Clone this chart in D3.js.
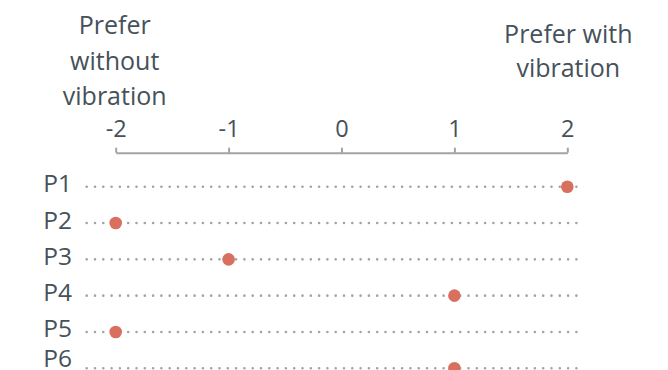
<!DOCTYPE html>
<html>
<head>
<meta charset="utf-8">
<script src="https://cdn.jsdelivr.net/npm/d3@7"></script>
<style>
  html, body { margin: 0; padding: 0; background: #ffffff; }
  svg { display: block; font-family: "Open Sans", sans-serif; }
</style>
</head>
<body>
<svg id="chart" width="668" height="370"></svg>
<script>
// Preference score per participant (-2 = prefer without vibration, 2 = prefer with vibration)
const participants = ["P1", "P2", "P3", "P4", "P5", "P6"];
const scores = [2, -2, -1, 1, -2, 1];
const tickValues = [-2, -1, 0, 1, 2];
const leftLabel = ["Prefer", "without", "vibration"];
const rightLabel = ["Prefer with", "vibration"];

const textColor = "#46515a";
const axisColor = "#a3a3a3";
const dotColor = "#d9705f";
const width = 668, height = 370;

const svg = d3.select("#chart");

const x = d3.scaleLinear().domain([-2, 2]).range([115.7, 567.3]);
const y = d3.scalePoint().domain(participants).range([186.7, 368.3]);

// Top axis
const axisG = svg.append("g")
  .attr("transform", "translate(0,152.7)")
  .call(d3.axisTop(x)
    .tickValues(tickValues)
    .tickFormat(d => String(d))
    .tickSize(5)
    .tickSizeOuter(0)
    .tickPadding(11));
axisG.select(".domain").attr("stroke", axisColor).attr("stroke-width", 2);
axisG.selectAll(".tick line").attr("stroke", axisColor).attr("stroke-width", 2);
axisG.selectAll(".tick text")
  .attr("fill", textColor)
  .style("font-family", "'Open Sans', sans-serif")
  .style("font-size", "23.5px");

// End-of-scale captions
svg.append("text")
  .attr("text-anchor", "middle")
  .attr("fill", textColor)
  .style("font-size", "25px")
  .selectAll("tspan")
  .data(leftLabel)
  .join("tspan")
  .attr("x", x(-2) - 1)
  .attr("y", (d, i) => 34 + i * 35.5)
  .text(d => d);

svg.append("text")
  .attr("text-anchor", "middle")
  .attr("fill", textColor)
  .style("font-size", "25px")
  .selectAll("tspan")
  .data(rightLabel)
  .join("tspan")
  .attr("x", x(2) + 1)
  .attr("y", (d, i) => 43.3 + i * 34)
  .text(d => d);

// Rows
const rows = svg.append("g")
  .selectAll("g")
  .data(participants.map((p, i) => ({ p, v: scores[i] })))
  .join("g");

rows.append("line")
  .attr("x1", 86.7)
  .attr("x2", 584)
  .attr("y1", d => y(d.p))
  .attr("y2", d => y(d.p))
  .attr("stroke", axisColor)
  .attr("stroke-width", 2.6)
  .attr("stroke-linecap", "round")
  .attr("stroke-dasharray", "0 8.3");

// Row labels sit just below their line, kept inside the bottom edge
rows.append("text")
  .attr("x", 43.3)
  .attr("y", d => Math.min(y(d.p) + 5.5, height - 3.5))
  .attr("fill", textColor)
  .style("font-size", "24.5px")
  .text(d => d.p);

rows.append("circle")
  .attr("cx", d => x(d.v))
  .attr("cy", d => y(d.p))
  .attr("r", 6.3)
  .attr("fill", dotColor);
</script>
</body>
</html>
